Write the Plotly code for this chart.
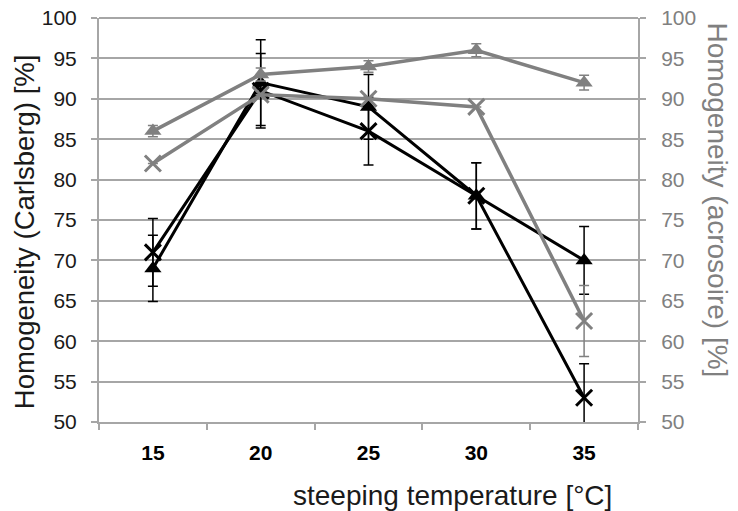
import plotly.graph_objects as go

temps = ["15", "20", "25", "30", "35"]

carlsberg_tri = [69, 92, 89, 78, 70]
carlsberg_tri_err = [4.1, 5.3, 4.0, 4.1, 4.2]
carlsberg_x = [71, 91, 86, 78, 53]
carlsberg_x_err = [4.2, 4.6, 4.2, 4.1, 4.2]

acro_tri = [86, 93, 94, 96, 92]
acro_tri_err = [0.7, 0.8, 0.7, 0.8, 0.9]
acro_x = [82, 90.5, 90, 89, 62.5]
acro_x_err = [0, 0, 0, 0, 4.4]

y_ticks = [50, 55, 60, 65, 70, 75, 80, 85, 90, 95, 100]

BLACK = "#000000"
GREY = "#808080"
GRID = "#a6a6a6"
FONT = "Liberation Sans, Arial, sans-serif"

fig = go.Figure()

fig.add_trace(go.Scatter(
    x=temps, y=carlsberg_tri, mode="lines+markers", yaxis="y",
    line=dict(color=BLACK, width=3),
    marker=dict(symbol="triangle-up", size=15, color=BLACK),
    error_y=dict(type="data", array=carlsberg_tri_err, color=BLACK, thickness=1.5, width=5),
))
fig.add_trace(go.Scatter(
    x=temps, y=carlsberg_x, mode="lines+markers", yaxis="y",
    line=dict(color=BLACK, width=3),
    marker=dict(symbol="x-thin", size=16, color=BLACK, line=dict(color=BLACK, width=3)),
    error_y=dict(type="data", array=carlsberg_x_err, color=BLACK, thickness=1.5, width=5),
))
fig.add_trace(go.Scatter(
    x=temps, y=acro_tri, mode="lines+markers", yaxis="y2",
    line=dict(color=GREY, width=3.5),
    marker=dict(symbol="triangle-up", size=15, color=GREY),
    error_y=dict(type="data", array=acro_tri_err, color=GREY, thickness=1.5, width=5),
))
fig.add_trace(go.Scatter(
    x=temps, y=acro_x, mode="lines+markers", yaxis="y2",
    line=dict(color=GREY, width=3.5),
    marker=dict(symbol="x-thin", size=16, color=GREY, line=dict(color=GREY, width=3)),
    error_y=dict(type="data", array=acro_x_err, color=GREY, thickness=1.5, width=5),
))

fig.update_layout(
    width=730, height=503,
    margin=dict(l=91, r=100, t=10, b=89, autoexpand=False),
    paper_bgcolor="white", plot_bgcolor="white",
    showlegend=False,
    font=dict(family=FONT, color=BLACK),
    xaxis=dict(
        type="category", tickson="boundaries", ticks="outside", ticklen=6,
        tickcolor=GRID, tickwidth=2, showline=True, linecolor=GRID, linewidth=2,
        showgrid=False, tickfont=dict(size=21, color=BLACK, weight="bold"),
        ticklabelstandoff=11, range=[-0.5, 4.5], automargin=False,
        ticklabeloverflow="allow",
    ),
    yaxis=dict(
        range=[50, 100], tickvals=y_ticks, ticks="outside", ticklen=6,
        tickcolor=GRID, tickwidth=2, showline=True, linecolor=GRID, linewidth=2,
        showgrid=True, gridcolor=GRID, gridwidth=2, zeroline=False,
        tickfont=dict(size=21, color="#1a1a1a"), ticklabelstandoff=10, automargin=False,
        ticklabeloverflow="allow",
    ),
    yaxis2=dict(
        range=[50, 100], tickvals=y_ticks, ticks="outside", ticklen=6,
        overlaying="y", side="right",
        tickcolor=GRID, tickwidth=2, showline=True, linecolor=GRID, linewidth=2,
        showgrid=False, zeroline=False,
        tickfont=dict(size=21, color=GREY), ticklabelstandoff=11, automargin=False,
        ticklabeloverflow="allow",
    ),
    shapes=[
        dict(type="line", xref="paper", yref="paper", x0=0, x1=1, y0=1, y1=1,
             line=dict(color=GRID, width=2), layer="below"),
    ],
    annotations=[
        dict(text="steeping temperature [°C]", xref="paper", yref="paper",
             x=0.655, y=-0.181, xanchor="center", yanchor="middle", showarrow=False,
             font=dict(size=28, color="#1a1a1a")),
        dict(text="Homogeneity (Carlsberg) [%]", xref="paper", yref="paper",
             x=-0.139, y=0.47, xanchor="center", yanchor="middle", showarrow=False,
             textangle=-90, font=dict(size=27.5, color="#1a1a1a")),
        dict(text="Homogeneity (acrosoire) [%]", xref="paper", yref="paper",
             x=1.147, y=0.55, xanchor="center", yanchor="middle", showarrow=False,
             textangle=90, font=dict(size=28, color=GREY)),
    ],
)

fig.write_html("out.html")
